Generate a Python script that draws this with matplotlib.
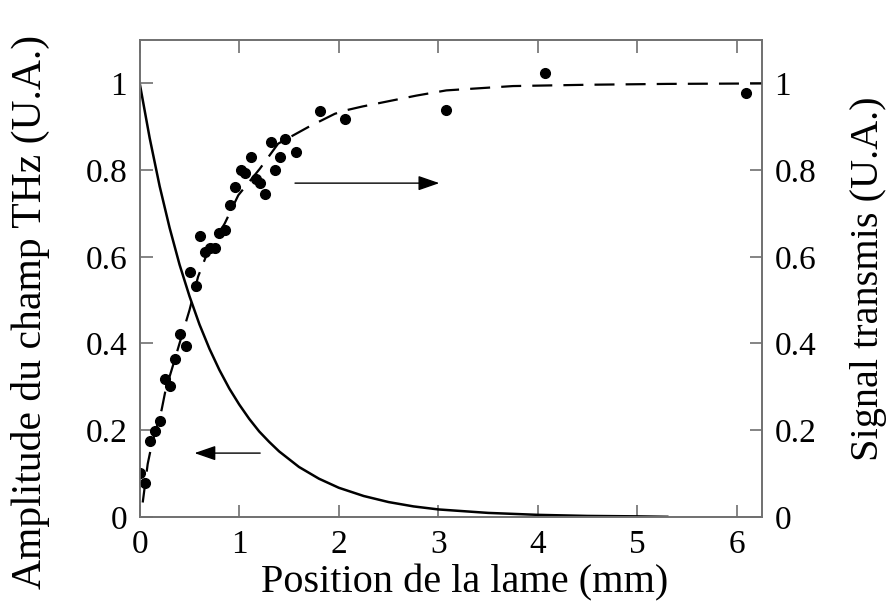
import matplotlib
matplotlib.use("Agg")
import matplotlib.pyplot as plt

plt.rcParams["font.family"] = ["Liberation Serif", "DejaVu Serif"]

SPINE = "#707070"

# measured points (signal transmis)
pts_x = [0.007, 0.057, 0.107, 0.15, 0.20, 0.25, 0.30, 0.355, 0.40, 0.46,
         0.51, 0.563, 0.606, 0.656, 0.71, 0.757, 0.80, 0.854, 0.91, 0.96,
         1.015, 1.06, 1.115, 1.166, 1.21, 1.26, 1.317, 1.364, 1.41, 1.457,
         1.565, 1.816, 2.067, 3.075, 4.07, 6.09]
pts_y = [0.10, 0.078, 0.175, 0.199, 0.222, 0.319, 0.302, 0.365, 0.421, 0.393,
         0.564, 0.533, 0.647, 0.611, 0.621, 0.621, 0.655, 0.661, 0.72, 0.76,
         0.801, 0.794, 0.83, 0.78, 0.771, 0.746, 0.865, 0.801, 0.83, 0.872,
         0.842, 0.936, 0.918, 0.939, 1.023, 0.978]

# dashed fit curve (signal transmis)
fit_x = [0.03, 0.08, 0.12, 0.22, 0.26, 0.335, 0.41, 0.50, 0.586, 0.676,
         0.854, 0.99, 1.206, 1.39, 1.69, 1.96, 2.07, 2.24, 2.78, 3.08,
         3.75, 4.5, 5.3, 6.25]
fit_y = [0.033, 0.122, 0.166, 0.247, 0.293, 0.35, 0.408, 0.477, 0.554, 0.607,
         0.677, 0.742, 0.803, 0.861, 0.899, 0.93, 0.938, 0.947, 0.972, 0.984,
         0.994, 0.997, 0.999, 1.0]

# solid curve (amplitude du champ THz)
amp_x = [0, 0.1, 0.2, 0.3, 0.4, 0.5, 0.6, 0.7, 0.8, 0.9, 1.0, 1.1, 1.2, 1.3,
         1.4, 1.6, 1.8, 2.0, 2.25, 2.5, 2.75, 3.0, 3.5, 4.0, 4.5, 5.0, 5.3]
amp_y = [1.0, 0.874, 0.763, 0.667, 0.582, 0.509, 0.444, 0.388, 0.339, 0.296,
         0.259, 0.226, 0.197, 0.173, 0.151, 0.115, 0.088, 0.067, 0.048, 0.034,
         0.024, 0.017, 0.009, 0.0045, 0.002, 0.001, 0.0]

xticks = [0, 1, 2, 3, 4, 5, 6]
yticks = [0, 0.2, 0.4, 0.6, 0.8, 1.0]
ytick_labels = ["0", "0.2", "0.4", "0.6", "0.8", "1"]

fig = plt.figure(figsize=(8.9, 6.08), dpi=100)
ax = fig.add_axes([0.157, 0.150, 0.699, 0.784])
ax2 = ax.twinx()

ax.plot(amp_x, amp_y, color="black", linewidth=1.8)
ax2.plot(fit_x, fit_y, color="black", linewidth=1.6, linestyle=(0, (9, 5)))
ax2.plot(pts_x, pts_y, "o", color="black", markersize=7)

ax.set_xlim(0, 6.25)
ax.set_ylim(0, 1.1)
ax2.set_ylim(0, 1.1)

ax.set_xticks(xticks)
ax.set_yticks(yticks)
ax.set_yticklabels(ytick_labels)
ax2.set_yticks(yticks)
ax2.set_yticklabels(ytick_labels)

for a in (ax, ax2):
    for sp in a.spines.values():
        sp.set_color(SPINE)
        sp.set_linewidth(1.2)
    a.tick_params(direction="in", length=9, width=1.2, color=SPINE,
                  labelsize=24, pad=9)
ax.tick_params(top=True)

ax.set_xlabel("Position de la lame (mm)", fontsize=29)
ax.xaxis.set_label_coords(0.523, -0.10)
ax.set_ylabel("Amplitude du champ THz (U.A.)", fontsize=30)
ax.yaxis.set_label_coords(-0.145, 0.43)
ax2.set_ylabel("Signal transmis (U.A.)", fontsize=29, labelpad=24)

arrow = dict(arrowstyle="-|>,head_length=1.3,head_width=0.45", color="black",
             lw=1.0, shrinkA=0, shrinkB=0)
ax.annotate("", xy=(0.55, 0.147), xytext=(1.21, 0.147), arrowprops=arrow)
ax.annotate("", xy=(3.01, 0.77), xytext=(1.56, 0.77), arrowprops=arrow)

fig.savefig("out.png", dpi=100)
